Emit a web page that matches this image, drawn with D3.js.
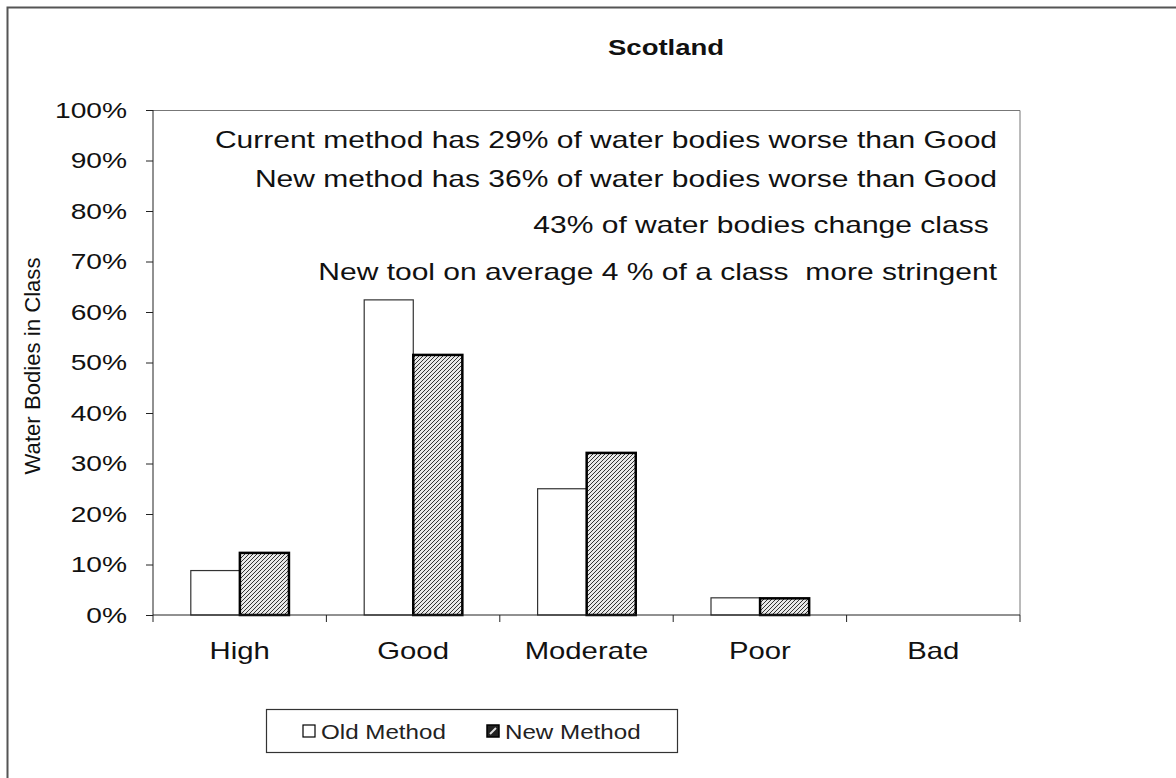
<!DOCTYPE html>
<html>
<head>
<meta charset="utf-8">
<script src="https://cdn.jsdelivr.net/npm/d3@7"></script>
<style>
  body { margin: 0; background: #fff; }
  text { font-family: "Liberation Sans", Arial, sans-serif; fill: #111; }
</style>
</head>
<body>
<div id="chart"></div>
<script>
var categories = ["High", "Good", "Moderate", "Poor", "Bad"];
var seriesNames = ["Old Method", "New Method"];
var oldMethod = [0.088, 0.624, 0.250, 0.034, 0];
var newMethod = [0.123, 0.515, 0.321, 0.033, 0];
var yTicks = [0, 0.1, 0.2, 0.3, 0.4, 0.5, 0.6, 0.7, 0.8, 0.9, 1.0];
var notes = [
    "Current method has 29% of water bodies worse than Good",
    "New method has 36% of water bodies worse than Good",
    "43% of water bodies change class ",
    "New tool on average 4 % of a class  more stringent"
];

var W = 1176, H = 778;
var margin = {top: 110, right: 156, bottom: 163, left: 153},
    width = W - margin.left - margin.right,
    height = H - margin.top - margin.bottom;

// the original picture is a bit wider than normal text, stretch it
function stretch(sel, k) {
    sel.each(function() {
        var len = this.getComputedTextLength();
        d3.select(this)
            .attr("textLength", len * k)
            .attr("lengthAdjust", "spacingAndGlyphs");
    });
}

var svg = d3.select("#chart").append("svg")
    .attr("width", W)
    .attr("height", H);

// hatch pattern for new method
var defs = svg.append("defs");
var pat = defs.append("pattern")
    .attr("id", "hatch")
    .attr("patternUnits", "userSpaceOnUse")
    .attr("width", 4)
    .attr("height", 4);
pat.append("rect").attr("width", 4).attr("height", 4).attr("fill", "#e8e8e8");
pat.append("path")
    .attr("d", "M-1,1 l2,-2 M0,4 l4,-4 M3,5 l2,-2")
    .attr("stroke", "#333")
    .attr("stroke-width", 1);

// outer frame
svg.append("rect")
    .attr("x", 7.5).attr("y", 7.5)
    .attr("width", 1200).attr("height", 800)
    .attr("fill", "none")
    .attr("stroke", "#555")
    .attr("stroke-width", 2);

var g = svg.append("g")
    .attr("transform", "translate(" + margin.left + "," + margin.top + ")");

var x = d3.scaleBand()
    .domain(categories)
    .range([0, width]);

var y = d3.scaleLinear()
    .domain([0, 1])
    .range([height, 0]);

// plot area border (top and right)
g.append("path")
    .attr("d", "M0,0.5H" + width + "V" + height)
    .attr("fill", "none")
    .attr("stroke", "#777")
    .attr("stroke-width", 1);

var barW = x.bandwidth() * 0.283;
var offset = x.bandwidth() * 0.218;

var data = categories.map(function(c, i) {
    return {cat: c, old: oldMethod[i], nu: newMethod[i]};
});

// old method bars
g.selectAll(".old")
    .data(data)
    .enter().append("rect")
    .attr("class", "old")
    .attr("x", function(d) { return x(d.cat) + offset; })
    .attr("y", function(d) { return y(d.old); })
    .attr("width", barW)
    .attr("height", function(d) { return height - y(d.old); })
    .attr("fill", "#fff")
    .attr("stroke", "#333")
    .attr("stroke-width", function(d) { return d.old > 0 ? 1.2 : 0; });

// new method bars
g.selectAll(".new")
    .data(data)
    .enter().append("rect")
    .attr("class", "new")
    .attr("x", function(d) { return x(d.cat) + offset + barW; })
    .attr("y", function(d) { return y(d.nu); })
    .attr("width", barW)
    .attr("height", function(d) { return height - y(d.nu); })
    .attr("fill", "url(#hatch)")
    .attr("stroke", "#000")
    .attr("stroke-width", function(d) { return d.nu > 0 ? 2.5 : 0; });

// y axis
var yAxis = d3.axisLeft(y)
    .tickValues(yTicks)
    .tickFormat(d3.format(".0%"))
    .tickSize(7)
    .tickPadding(19);
var ya = g.append("g").call(yAxis);
ya.select(".domain").attr("stroke", "#222").attr("d", "M0,0V" + height);
ya.selectAll(".tick line").attr("stroke", "#222");
ya.selectAll(".tick text")
    .style("font-size", "22px")
    .style("font-family", "Liberation Sans, Arial, sans-serif")
    .attr("fill", "#111")
    .call(stretch, 1.28);

// x axis
var xAxis = d3.axisBottom(x).tickSize(0).tickPadding(27);
var xa = g.append("g")
    .attr("transform", "translate(0," + height + ")")
    .call(xAxis);
xa.select(".domain").attr("stroke", "#222").attr("d", "M0,0H" + width);
xa.selectAll(".tick text")
    .style("font-size", "24px")
    .style("font-family", "Liberation Sans, Arial, sans-serif")
    .attr("fill", "#111")
    .call(stretch, 1.22);
// category separator ticks
xa.selectAll(".sep")
    .data(d3.range(categories.length + 1))
    .enter().append("line")
    .attr("class", "sep")
    .attr("x1", function(i) { return i * x.step(); })
    .attr("x2", function(i) { return i * x.step(); })
    .attr("y1", 0).attr("y2", 7)
    .attr("stroke", "#222");

// title
svg.append("text")
    .attr("x", 608).attr("y", 55)
    .attr("text-anchor", "start")
    .style("font-size", "22px")
    .style("font-weight", "bold")
    .text("Scotland")
    .call(stretch, 1.25);

// y label
svg.append("text")
    .attr("transform", "translate(40,366) rotate(-90)")
    .attr("text-anchor", "middle")
    .style("font-size", "22px")
    .text("Water Bodies in Class")
    .attr("textLength", 217)
    .attr("lengthAdjust", "spacingAndGlyphs");

// annotation lines
var noteY = [148, 187, 233, 280];
svg.selectAll(".note")
    .data(notes)
    .enter().append("text")
    .attr("class", "note")
    .attr("x", 997)
    .attr("y", function(d, i) { return noteY[i]; })
    .attr("text-anchor", "end")
    .style("font-size", "24px")
    .style("white-space", "pre")
    .attr("xml:space", "preserve")
    .text(function(d) { return d; })
    .call(stretch, 1.25);

// legend
var lg = svg.append("g").attr("transform", "translate(266,709)");
lg.append("rect")
    .attr("x", 0.5).attr("y", 0.5)
    .attr("width", 411).attr("height", 43)
    .attr("fill", "#fff")
    .attr("stroke", "#333")
    .attr("stroke-width", 1.2);
var legX = [37, 221];
seriesNames.forEach(function(s, i) {
    lg.append("rect")
        .attr("x", legX[i]).attr("y", 16)
        .attr("width", 12).attr("height", 12)
        .attr("fill", i === 0 ? "#fff" : "#222")
        .attr("stroke", "#000")
        .attr("stroke-width", i === 0 ? 1.2 : 1.5);
    if (i === 1) {
        lg.append("line")
            .attr("x1", legX[i] + 3).attr("y1", 25)
            .attr("x2", legX[i] + 9).attr("y2", 19)
            .attr("stroke", "#ddd")
            .attr("stroke-width", 2);
    }
    lg.append("text")
        .attr("x", legX[i] + 18).attr("y", 30)
        .style("font-size", "21px")
        .style("fill", "#222")
        .text(s)
        .call(stretch, 1.15);
});
</script>
</body>
</html>
